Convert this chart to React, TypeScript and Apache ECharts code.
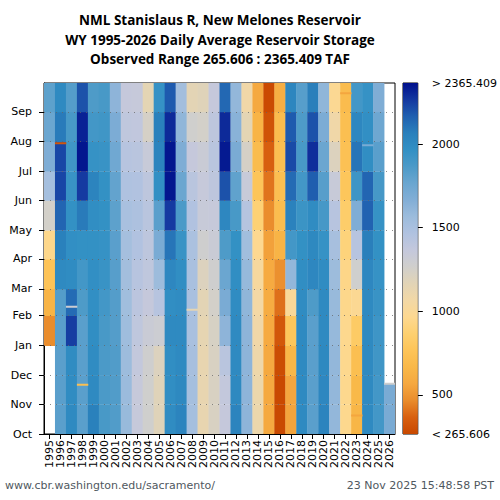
import React, { useEffect, useRef } from "react";
import * as echarts from "echarts";

// ---------- data ----------
const waterYears = [
  "1995", "1996", "1997", "1998", "1999", "2000", "2001", "2002", "2003", "2004", "2005",
  "2006", "2007", "2008", "2009", "2010", "2011", "2012", "2013", "2014", "2015", "2016",
  "2017", "2018", "2019", "2020", "2021", "2022", "2023", "2024", "2025", "2026",
];
const monthLabels = ["Oct", "Nov", "Dec", "Jan", "Feb", "Mar", "Apr", "May", "Jun", "Jul", "Aug", "Sep"];
const monthStartDays = [0, 31, 61, 92, 123, 151, 182, 212, 243, 273, 304, 335];
const daysInWaterYear = 365;
const recordStartDay = 92; // 1 Jan 1995 (first observed day)
const recordEndDay = 53; // 22 Nov 2025 (last observed day)
const storageMin = 265.606;
const storageMax = 2365.409;
const legendTicks = [500, 1000, 1500, 2000];

// monthly average storage, TAF (Oct..Sep)
const wy1995 = [null, null, null, 470, 640, 760, 950, 1250, 1520, 1680, 1760, 1810];
const wy1996 = [1820, 1820, 1820, 1820, 1840, 2000, 2060, 2150, 2230, 2230, 2080, 2000];
const wy1997 = [2000, 1990, 1990, 2250, 2130, 1990, 1970, 1960, 1940, 1910, 1880, 1840];
const wy1998 = [1820, 1820, 1820, 1820, 1860, 1900, 1960, 2080, 2260, 2350, 2320, 2200];
const wy1999 = [2060, 2000, 1990, 1980, 1970, 1970, 1960, 1980, 2040, 1950, 1900, 1860];
const wy2000 = [1880, 1870, 1870, 1880, 1900, 1940, 1950, 1960, 1960, 1940, 1910, 1880];
const wy2001 = [1850, 1850, 1850, 1840, 1840, 1830, 1820, 1810, 1790, 1740, 1690, 1620];
const wy2002 = [1580, 1570, 1560, 1550, 1540, 1530, 1520, 1500, 1470, 1430, 1390, 1360];
const wy2003 = [1350, 1350, 1370, 1390, 1410, 1430, 1460, 1480, 1460, 1420, 1380, 1350];
const wy2004 = [1270, 1270, 1280, 1320, 1360, 1390, 1400, 1420, 1400, 1340, 1240, 1150];
const wy2005 = [1180, 1180, 1200, 1300, 1430, 1560, 1700, 1820, 1970, 2040, 2060, 1950];
const wy2006 = [1990, 1980, 1980, 2000, 1980, 2020, 2100, 2260, 2350, 2350, 2300, 2180];
const wy2007 = [2040, 2010, 2000, 2000, 1990, 1980, 1940, 1870, 1760, 1680, 1610, 1530];
const wy2008 = [1520, 1520, 1510, 1500, 1500, 1500, 1490, 1460, 1420, 1360, 1270, 1160];
const wy2009 = [1130, 1130, 1130, 1140, 1160, 1200, 1280, 1340, 1350, 1320, 1250, 1180];
const wy2010 = [1220, 1220, 1220, 1230, 1250, 1280, 1320, 1350, 1400, 1420, 1400, 1360];
const wy2011 = [1360, 1370, 1420, 1620, 1700, 1760, 1860, 2020, 2200, 2340, 2300, 2140];
const wy2012 = [2040, 2010, 2000, 2000, 1990, 1980, 1960, 1880, 1800, 1700, 1640, 1600];
const wy2013 = [1620, 1620, 1620, 1620, 1610, 1590, 1540, 1440, 1340, 1240, 1150, 1080];
const wy2014 = [1100, 1100, 1090, 1080, 1060, 1030, 970, 880, 770, 700, 640, 570];
const wy2015 = [570, 570, 570, 580, 590, 580, 540, 470, 410, 360, 310, 275];
const wy2016 = [270, 270, 285, 330, 400, 480, 640, 710, 720, 720, 700, 600];
const wy2017 = [550, 560, 660, 780, 1000, 1600, 1900, 2050, 2130, 2220, 2180, 2030];
const wy2018 = [2000, 2000, 2000, 2000, 1990, 1980, 1960, 1930, 1900, 1880, 1860, 1830];
const wy2019 = [1820, 1820, 1820, 1820, 1860, 2020, 2010, 1990, 2170, 2290, 2200, 2070];
const wy2020 = [2040, 2020, 2010, 2000, 2000, 1990, 1950, 1890, 1830, 1760, 1690, 1610];
const wy2021 = [1600, 1600, 1600, 1590, 1580, 1560, 1510, 1430, 1340, 1200, 1080, 980];
const wy2022 = [960, 960, 960, 960, 950, 940, 900, 840, 780, 740, 720, 700];
const wy2023 = [650, 670, 720, 820, 980, 1270, 1430, 1680, 1920, 2100, 2020, 1900];
const wy2024 = [2000, 2000, 2000, 2000, 2000, 2020, 2070, 2160, 2150, 1980, 1970, 1950];
const wy2025 = [1900, 1900, 1910, 1920, 1940, 1950, 1960, 1950, 1890, 1820, 1750, 1680];
const wy2026 = [1700, 1700];

const yearRows: (number | null)[][] = [
  wy1995, wy1996, wy1997, wy1998, wy1999, wy2000, wy2001, wy2002, wy2003, wy2004, wy2005,
  wy2006, wy2007, wy2008, wy2009, wy2010, wy2011, wy2012, wy2013, wy2014, wy2015, wy2016,
  wy2017, wy2018, wy2019, wy2020, wy2021, wy2022, wy2023, wy2024, wy2025, wy2026,
];

// single-day readings that stand out: [water year, day of water year, TAF]
const dailyOutliers: [string, number, number][] = [
  ["1996", 302, 330],
  ["1997", 132, 1300],
  ["1998", 51, 720],
  ["2008", 129, 1150],
  ["2022", 354, 560],
  ["2023", 19, 560],
  ["2024", 300, 1700],
  ["2026", 52, 1280],
];

const colorScale = [
  "#c84800", "#d86010", "#e98c2c", "#f5a840", "#f9b848", "#fdc458", "#fdd070", "#fdd890",
  "#f2d8a6", "#e2d4b6", "#d0cfcc", "#c4c8dc", "#b0c2e0", "#9cbcdc", "#82aed6", "#6aa6d0",
  "#4c9ac8", "#3290c4", "#2a80bc", "#2060b0", "#1438a0", "#00108c",
];

// ---------- build ----------
function buildCells() {
  const cells: number[][] = [];
  const last = yearRows.length - 1;
  yearRows.forEach((row, i) => {
    for (let m = 0; m < 12; m++) {
      const v = row[m];
      if (v === null || v === undefined) continue;
      let s = monthStartDays[m];
      let e = m < 11 ? monthStartDays[m + 1] : daysInWaterYear;
      if (i === 0) s = Math.max(s, recordStartDay);
      if (i === last) e = Math.min(e, recordEndDay);
      if (e <= s) continue;
      cells.push([i, s, e, v]);
    }
  });
  dailyOutliers.forEach(([yr, d, v]) => {
    cells.push([waterYears.indexOf(yr), d, d + 1, v]);
  });
  return cells;
}

const FONT = "DejaVu Sans";
const TITLE_STYLE = { fontFamily: "Open Sans", fontWeight: "bold", fontSize: 13.5, align: "center", verticalAlign: "middle", fill: "#000" };

export default function App() {
  const ref = useRef<HTMLDivElement>(null);
  useEffect(() => {
    if (!ref.current) return;
    const chart = echarts.init(ref.current, null, { renderer: "svg" });
    const cells = buildCells();
    const gradStops = colorScale.map((c, i) => ({ offset: i / (colorScale.length - 1), color: c }));

    const option: any = {
      animation: false,
      backgroundColor: "#fff",
      grid: [
        { left: 44, top: 83, width: 351, height: 351, show: true, borderColor: "#000", borderWidth: 1, backgroundColor: "transparent" },
        { left: 403, top: 83, width: 19, height: 351, show: true, borderColor: "#000", borderWidth: 1, backgroundColor: "transparent" },
      ],
      xAxis: [
        {
          type: "category",
          gridIndex: 0,
          data: waterYears,
          boundaryGap: true,
          axisLine: { show: true, lineStyle: { color: "#000" } },
          axisTick: { show: true, alignWithLabel: true, length: 5, lineStyle: { color: "#000" } },
          axisLabel: { rotate: 90, interval: 0, margin: 6, fontSize: 11, fontFamily: FONT, color: "#000" },
          splitLine: { show: false },
        },
        { type: "category", gridIndex: 1, data: ["c"], show: false },
      ],
      yAxis: [
        {
          type: "value",
          gridIndex: 0,
          min: 0,
          max: daysInWaterYear,
          axisLine: { show: true, lineStyle: { color: "#000" } },
          axisTick: { show: true, length: 5, customValues: monthStartDays, lineStyle: { color: "#000" } },
          axisLabel: {
            customValues: monthStartDays,
            formatter: (v: number) => monthLabels[monthStartDays.indexOf(v)] ?? "",
            fontSize: 11,
            fontFamily: FONT,
            color: "#000",
            margin: 12,
          },
          splitLine: { show: false },
        },
        {
          type: "value",
          gridIndex: 1,
          position: "right",
          min: storageMin,
          max: storageMax,
          axisLine: { show: false },
          axisTick: { show: true, length: 5, customValues: legendTicks, lineStyle: { color: "#000" } },
          axisLabel: {
            customValues: [storageMin, ...legendTicks, storageMax],
            formatter: (v: number) =>
              Math.abs(v - storageMin) < 0.01 ? "< " + storageMin : Math.abs(v - storageMax) < 0.01 ? "> " + storageMax : String(v),
            fontSize: 11,
            fontFamily: FONT,
            color: "#000",
            margin: 14,
          },
          splitLine: { show: false },
        },
      ],
      visualMap: {
        show: false,
        type: "continuous",
        min: storageMin,
        max: storageMax,
        dimension: 3,
        seriesIndex: 0,
        inRange: { color: colorScale },
      },
      series: [
        {
          type: "custom",
          xAxisIndex: 0,
          yAxisIndex: 0,
          clip: true,
          data: cells,
          encode: { x: 0, y: [1, 2] },
          renderItem: (params: any, api: any) => {
            const x = api.value(0);
            const p0 = api.coord([x, api.value(1)]);
            const p1 = api.coord([x, api.value(2)]);
            const w = api.size([1, 0])[0];
            let h = p0[1] - p1[1];
            let y = p1[1];
            if (h < 1.6) {
              y -= (1.6 - h) / 2;
              h = 1.6;
            }
            return {
              type: "rect",
              shape: { x: p0[0] - w / 2, y: y, width: w + 0.4, height: h + 0.4 },
              style: { fill: api.visual("color") },
            };
          },
        },
        {
          type: "line",
          xAxisIndex: 0,
          yAxisIndex: 0,
          data: [],
          markLine: {
            silent: true,
            symbol: ["none", "none"],
            label: { show: false },
            lineStyle: { color: "rgba(100,100,100,0.75)", type: [1, 5], width: 1 },
            data: monthStartDays.slice(1).map((d) => ({ yAxis: d })),
          },
        },
        {
          type: "custom",
          xAxisIndex: 1,
          yAxisIndex: 1,
          data: [[0, storageMin, storageMax]],
          renderItem: (params: any, api: any) => {
            const p0 = api.coord([0, api.value(1)]);
            const p1 = api.coord([0, api.value(2)]);
            const w = api.size([1, 0])[0];
            return {
              type: "rect",
              shape: { x: p0[0] - w / 2, y: p1[1], width: w, height: p0[1] - p1[1] },
              style: { fill: new echarts.graphic.LinearGradient(0, 1, 0, 0, gradStops) },
            };
          },
        },
      ],
      graphic: [
        { type: "text", x: 220, y: 20, style: { text: "NML Stanislaus R, New Melones Reservoir", ...TITLE_STYLE } },
        { type: "text", x: 220, y: 39.5, style: { text: "WY 1995-2026 Daily Average Reservoir Storage", ...TITLE_STYLE } },
        { type: "text", x: 220, y: 58.5, style: { text: "Observed Range 265.606 : 2365.409 TAF", ...TITLE_STYLE } },
        { type: "text", x: 5, y: 485, style: { text: "www.cbr.washington.edu/sacramento/", fontFamily: FONT, fontSize: 11, align: "left", verticalAlign: "middle", fill: "#4f5860" } },
        { type: "text", x: 494, y: 485, style: { text: "23 Nov 2025 15:48:58 PST", fontFamily: FONT, fontSize: 11, align: "right", verticalAlign: "middle", fill: "#4f5860" } },
      ],
    };
    chart.setOption(option);
    return () => chart.dispose();
  }, []);
  return <div ref={ref} style={{ position: "fixed", left: 0, top: 0, width: 500, height: 500, background: "#fff" }} />;
}
